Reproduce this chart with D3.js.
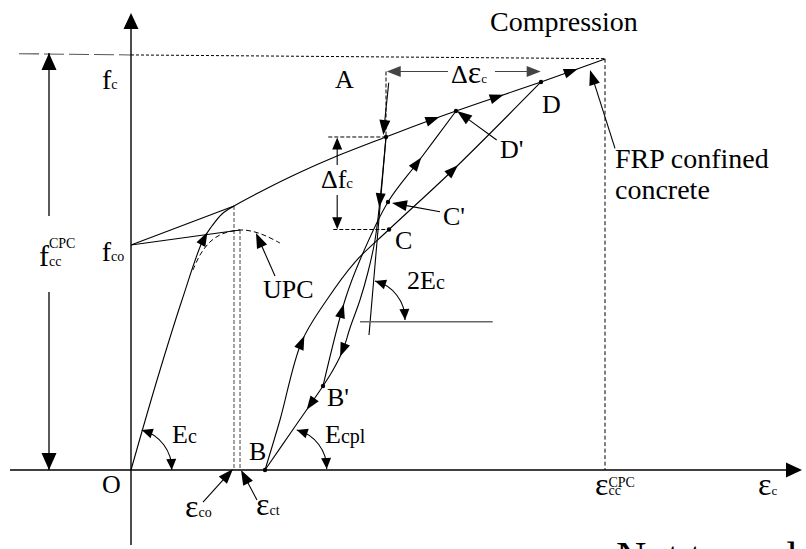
<!DOCTYPE html>
<html><head><meta charset="utf-8">
<script src="https://cdn.jsdelivr.net/npm/d3@7"></script>
<style>
body{margin:0;background:#fff}
svg{display:block}
</style>
</head><body>
<svg id="c" width="806" height="549" font-family="'Liberation Serif', Tinos, 'Times New Roman', 'DejaVu Serif', serif"></svg>
<script>
// Values in % of eps_cc^CPC (strain, x) and % of f_cc^CPC (stress, y)
const envelope = [[0,0],[5.49,21.79],[10.76,41.16],[15.19,55.69],[17.09,59.08],[19.20,61.99],[21.73,63.92],[27.22,67.31],[33.54,70.94],[41.98,75.30],[53.8,80.63],[60.97,83.78],[68.57,86.92],[77.85,90.56],[86.50,93.95],[100,99.5]];
const upc = [[13.08,48.43],[14.56,52.06],[16.67,55.21],[19.20,57.14],[23.0,58.11],[25.74,57.75],[28.48,56.66],[31.43,54.96]];
const fcoLines = [[[0,54.48],[21.73,63.92]],[[0,54.48],[23.0,58.11]]];
const unloadA = [[53.8,80.63],[52.53,65.38],[51.48,55.69],[50.0,47.94],[48.31,41.16],[46.20,34.38],[44.73,29.06],[42.62,24.21],[40.51,20.34],[34.39,10.17],[28.27,0]];
const reloadB = [[28.27,0],[31.43,12.11],[36.01,31.07],[41.29,41.16],[47.26,50.36],[54.43,58.23],[67.93,72.64],[86.50,93.95]];
const reloadBp = [[40.51,20.34],[45.15,41.16],[48.31,50.85],[54.22,64.89],[60.55,74.58],[68.57,86.92]];
const tangent2Ec = [[53.8,80.63],[50.21,32.69]];
const horiz2Ec = [[48.31,35.91],[76.31,35.91]];
const fcLine = [[-23.63,100.8],[0,100.5],[100,99.6]];
const epsDashed = [[[21.73,63.92],[21.73,0]],[[23.0,58.11],[23.0,0]]];
const dfcDashed = [[[41.62,80.63],[53.8,80.63]],[[42.68,58.23],[54.43,58.23]]];
const depsDashed = [[53.8,96.49],[53.8,80.63]];
const points = {A:[53.8,80.63],B:[28.27,0],Bp:[40.51,20.34],C:[54.43,58.23],Cp:[54.22,64.89],D:[86.50,93.95],Dp:[68.57,86.92]};
// arrows riding on the curves (centre points)
const envArrows = [[15.19,56.17],[63.71,84.75],[77.22,90.27],[93.04,96.13]];
const unloadArrows = [[52.53,65.38],[44.73,29.06],[38.19,15.74]];
const reloadBArrows = [[36.01,30.99],[67.93,72.64]];
const reloadBpArrows = [[44.51,38.50],[60.34,74.33]];
// label pointers [from, tip]
const pointers = [
  [[54.37,93.78],[53.23,81.11]],
  [[77.15,79.90],[68.78,86.92]],
  [[65.19,62.54],[55.06,64.65]],
  [[102.11,77.89],[96.84,96.85]],
  [[30.38,46.97],[26.37,57.38]],
  [[15.19,-7.75],[21.52,0.24]],
  [[26.58,-7.26],[23.21,0]]
];
const dEpsArrows = [[[66.88,96.49],[53.95,96.49]],[[76.79,96.49],[86.43,96.49]]];
const dFcArrows = [[[43.5,73.85],[43.5,80.51]],[[43.5,66.59],[43.5,58.28]]];
const arcs = [[[2.26,9.69],[8.59,0]],[[34.96,9.69],[41.29,0.24]],[[51.48,45.76],[57.81,36.32]]];
const dimX = -17.3, dimGap = [43.1,61.5], dimTop = 100.97;
const axisX = [-25.53,141.56], axisY = [-18.16,110.65];
const labels = [
  {x:-6.12,y:92.25,p:[["f",28],["c",14]]},
  {x:-6.18,y:50.61,p:[["f",28],["co",14]]},
  {x:-19.41,y:49.39,p:[["f",30],["cc",14]],sup:"CPC",supDy:-18},
  {x:-6.12,y:-5.57,p:[["O",26]]},
  {x:8.65,y:6.54,p:[["E",26],["c",20]]},
  {x:11.39,y:-11.38,p:[["ε",32],["co",14]]},
  {x:26.37,y:-10.90,p:[["ε",32],["ct",14]]},
  {x:24.89,y:2.42,p:[["B",26]]},
  {x:41.35,y:15.50,p:[["B'",26]]},
  {x:40.93,y:6.54,p:[["E",26],["cpl",20]]},
  {x:58.23,y:43.83,p:[["2E",26],["c",20]]},
  {x:55.70,y:53.51,p:[["C",26]]},
  {x:65.82,y:59.32,p:[["C'",26]]},
  {x:27.85,y:41.65,p:[["UPC",26]]},
  {x:43.04,y:92.49,p:[["A",26]]},
  {x:67.51,y:93.70,p:[["Δ",26],["ε",32],["c",13]]},
  {x:86.71,y:86.44,p:[["D",26]]},
  {x:77.85,y:75.54,p:[["D'",26]]},
  {x:40.08,y:68.28,p:[["Δf",26],["c",15]]},
  {x:75.74,y:106.30,p:[["Compression",28]]},
  {x:102.11,y:73.12,p:[["FRP confined",28]]},
  {x:102.11,y:65.62,p:[["concrete",28]]},
  {x:97.89,y:-6.05,p:[["ε",32],["cc",14]],sup:"CPC",supDy:-8},
  {x:132.28,y:-6.05,p:[["ε",32],["c",13]]},
  {x:102.32,y:-24.46,p:[["Not to scale",42]]}
];

const svg = d3.select("#c");
const X = d3.scaleLinear().domain([0,100]).range([131,605]);
const Y = d3.scaleLinear().domain([0,100]).range([470,57]);
const smooth = d3.line().x(d=>X(d[0])).y(d=>Y(d[1])).curve(d3.curveCatmullRom.alpha(0.5));
const straight = d3.line().x(d=>X(d[0])).y(d=>Y(d[1]));

function head(x,y,ang,len,hw,col){
  const c=Math.cos(ang), s=Math.sin(ang);
  const bx=x-len*c, by=y-len*s;
  svg.append("path").attr("d",`M${x},${y}L${bx-hw*s},${by+hw*c}L${bx+hw*s},${by-hw*c}Z`).attr("fill",col||"#000");
}
function path(d,opts){
  const p = svg.append("path").attr("d",d).attr("fill","none")
    .attr("stroke",opts.color||"#000").attr("stroke-width",opts.w||1.1);
  if(opts.dash) p.attr("stroke-dasharray",opts.dash);
  return p;
}
function arrowsOn(p, pts, len, hw){
  const node=p.node(), L=node.getTotalLength();
  pts.forEach(t=>{
    const tx=X(t[0]), ty=Y(t[1]);
    let best=0,bd=1e9;
    for(let l=0;l<=L;l+=0.5){const q=node.getPointAtLength(l);const d=(q.x-tx)**2+(q.y-ty)**2;if(d<bd){bd=d;best=l;}}
    const tipL=Math.min(L,best+len/2), baseL=Math.max(0,tipL-len);
    const a=node.getPointAtLength(tipL), b=node.getPointAtLength(baseL);
    head(a.x,a.y,Math.atan2(a.y-b.y,a.x-b.x),len,hw);
  });
}
function pointer(from,to,len,hw,col){
  const x1=X(from[0]),y1=Y(from[1]),x2=X(to[0]),y2=Y(to[1]);
  const ang=Math.atan2(y2-y1,x2-x1);
  path(`M${x1},${y1}L${x2-len*0.8*Math.cos(ang)},${y2-len*0.8*Math.sin(ang)}`,{color:col,w:1.1});
  head(x2,y2,ang,len,hw,col);
}

// dashed guides
path(straight(fcLine.slice(0,2)),{color:"#555",dash:"20,5",w:1.1});
path(straight(fcLine.slice(1)),{dash:"3,2",w:1});
path(straight([[100,99.6],[100,0]]),{dash:"4,2.5",w:1});
epsDashed.forEach(s=>path(straight(s),{color:"#555",dash:"4,2",w:1.1}));
dfcDashed.forEach(s=>path(straight(s),{dash:"4,2",w:1}));
path(straight(depsDashed),{dash:"4,2",w:1});

// axes
path(straight([[axisX[0],0],[axisX[1]-2,0]]),{w:1.4});
head(X(axisX[1]),Y(0),0,16,7.5);
path(straight([[0,axisY[0]],[0,axisY[1]-2]]),{w:1.4});
head(X(0),Y(axisY[1]),-Math.PI/2,16,7.5);

// f_cc dimension
path(straight([[dimX,0],[dimX,dimGap[0]]]),{w:1.3});
path(straight([[dimX,dimGap[1]],[dimX,dimTop]]),{w:1.3});
head(X(dimX),Y(0),Math.PI/2,17,7.5);
head(X(dimX),Y(dimTop),-Math.PI/2,17,7.5);

// curves
const env = path(smooth(envelope),{w:1.1});
arrowsOn(env, envArrows, 14, 5);
path(smooth(upc),{dash:"5,3",w:1});
fcoLines.forEach(s=>path(straight(s),{w:1.1}));
const un = path(smooth(unloadA),{w:1.1});
arrowsOn(un, unloadArrows, 14, 5);
const rb = path(smooth(reloadB),{w:1.1});
arrowsOn(rb, reloadBArrows, 14, 5);
const rbp = path(smooth(reloadBp),{w:1.1});
arrowsOn(rbp, reloadBpArrows, 14, 5);
path(straight(tangent2Ec),{w:1.1});
path(straight(horiz2Ec),{color:"#666",w:1.4});

// arcs with double arrows
arcs.forEach(([a,b])=>{
  const x1=X(a[0]),y1=Y(a[1]),x2=X(b[0]),y2=Y(b[1]);
  const r=0.8*Math.hypot(x2-x1,y2-y1);
  const p=path(`M${x1},${y1}A${r},${r} 0 0 1 ${x2},${y2}`,{w:1.1});
  const n=p.node(),L=n.getTotalLength();
  const s0=n.getPointAtLength(0),s1=n.getPointAtLength(6);
  head(s0.x,s0.y,Math.atan2(s0.y-s1.y,s0.x-s1.x),11,5);
  const e0=n.getPointAtLength(L),e1=n.getPointAtLength(L-6);
  head(e0.x,e0.y,Math.atan2(e0.y-e1.y,e0.x-e1.x),11,5);
});

// pointers
pointers.forEach(([f,t])=>pointer(f,t,15,5.5));
dEpsArrows.forEach(([f,t])=>pointer(f,t,14,5.5,"#444"));
dFcArrows.forEach(([f,t])=>pointer(f,t,12,5));

// dots
Object.values(points).forEach(p=>svg.append("circle").attr("cx",X(p[0])).attr("cy",Y(p[1])).attr("r",2.2).attr("fill","#000"));

// labels
labels.forEach(l=>{
  const t=svg.append("text").attr("x",X(l.x)).attr("y",Y(l.y)).attr("fill","#000");
  const spans=l.p.map(([s,fs])=>t.append("tspan").attr("font-size",fs).text(s));
  if(l.sup){
    const w=spans[0].node().getComputedTextLength();
    svg.append("text").attr("x",X(l.x)+w).attr("y",Y(l.y)+l.supDy).attr("font-size",14).text(l.sup);
  }
});
</script>
</body></html>
